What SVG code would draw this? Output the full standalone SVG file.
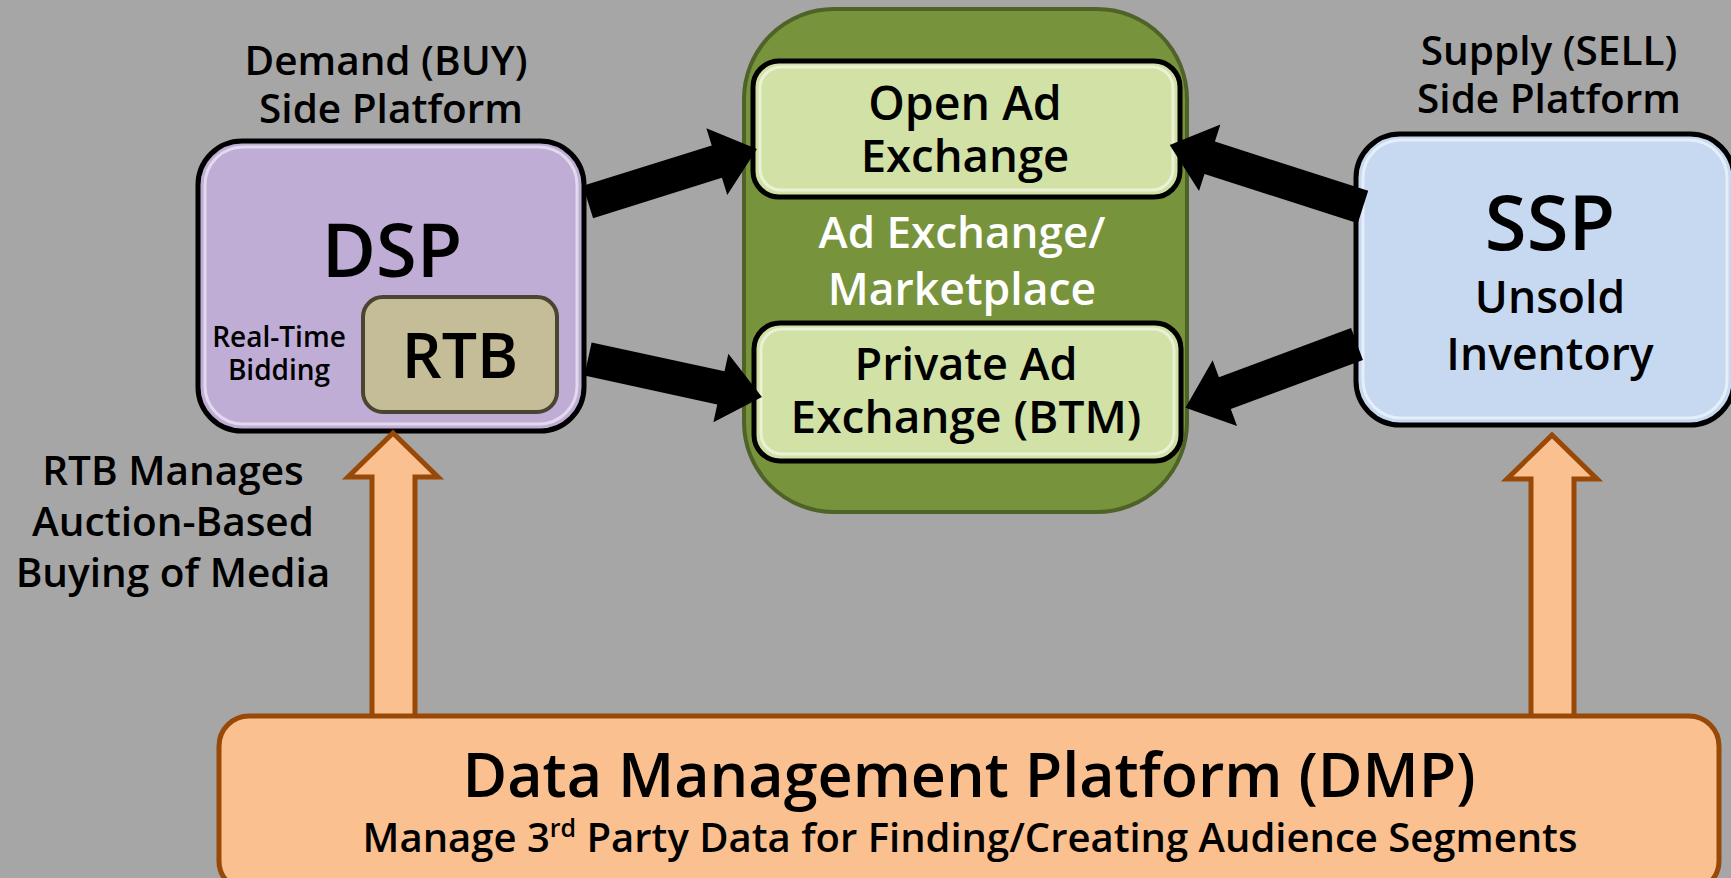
<svg xmlns="http://www.w3.org/2000/svg" width="1731" height="878" viewBox="0 0 1731 878">
<style>
text{font-family:"Open Sans","Noto Sans","Liberation Sans",sans-serif;font-weight:600;text-anchor:middle;fill:#000}
.lbl{font-size:40.5px}
.box{stroke:#000;stroke-width:5}
.hl{fill:none;stroke:#fff;stroke-opacity:0.55;stroke-width:3}
.arr{fill:#000}
.oarr{fill:#fac090;stroke:#984807;stroke-width:5}
</style>
<rect width="1731" height="878" fill="#a6a6a6"/>

<g id="exchange">
<rect x="744" y="9" width="443" height="503" rx="90" fill="#77933c" stroke="#4f6228" stroke-width="4"/>
<text x="962" y="248" style="font-size:44px;fill:#fff">Ad Exchange/</text>
<text x="962" y="305" style="font-size:44.5px;fill:#fff">Marketplace</text>
</g>

<g id="open-ad">
<rect class="box" x="753" y="61" width="427" height="136" rx="26" fill="#d2e1a6"/>
<rect class="hl" x="760" y="67" width="413" height="123" rx="21"/>
<text x="965" y="120" style="font-size:46.5px">Open Ad</text>
<text x="965" y="172" style="font-size:45.5px">Exchange</text>
</g>

<g id="private-ad">
<rect class="box" x="754" y="323" width="427" height="138" rx="26" fill="#d2e1a6"/>
<rect class="hl" x="761" y="329" width="413" height="125" rx="21"/>
<text x="966" y="380" style="font-size:45px">Private Ad</text>
<text x="966" y="433" style="font-size:46px">Exchange (BTM)</text>
</g>

<g id="dsp">
<text class="lbl" x="386" y="75">Demand (BUY)</text>
<text class="lbl" x="391" y="123">Side Platform</text>
<rect class="box" x="198" y="141" width="386" height="290" rx="44" fill="#bfadd6"/>
<rect class="hl" x="205" y="147" width="372" height="277" rx="38"/>
<text x="392" y="277" style="font-size:74px">DSP</text>
<text x="279" y="347" style="font-size:28px">Real-Time</text>
<text x="279" y="380" style="font-size:28px">Bidding</text>
</g>

<g id="rtb">
<rect x="363" y="297" width="194" height="115" rx="20" fill="#c4bd97" stroke="#4a4430" stroke-width="4"/>
<text x="460" y="378" style="font-size:62.5px">RTB</text>
</g>

<g id="ssp">
<text class="lbl" x="1549" y="65">Supply (SELL)</text>
<text class="lbl" x="1549" y="113">Side Platform</text>
<rect class="box" x="1356" y="134" width="378" height="291" rx="44" fill="#c6d9f1"/>
<rect class="hl" x="1363" y="140" width="364" height="278" rx="38"/>
<text x="1550" y="250" style="font-size:76px">SSP</text>
<text x="1550" y="313" style="font-size:44.5px">Unsold</text>
<text x="1550" y="370" style="font-size:44.5px">Inventory</text>
</g>

<g id="rtb-note">
<text class="lbl" x="173" y="485">RTB Manages</text>
<text class="lbl" x="173" y="536">Auction-Based</text>
<text class="lbl" x="173" y="587">Buying of Media</text>
</g>

<g id="connectors">
<polygon class="arr" points="0,-17 135,-17 135,-35 177,0 135,35 135,17 0,17" transform="translate(588,202) rotate(-17.4)"/>
<polygon class="arr" points="0,-17 136,-17 136,-35 178,0 136,35 136,17 0,17" transform="translate(588,359) rotate(12.3)"/>
<polygon class="arr" points="0,-17 161,-17 161,-35 203,0 161,35 161,17 0,17" transform="translate(1363,207) rotate(-162.2)"/>
<polygon class="arr" points="0,-17 141,-17 141,-35 183,0 141,35 141,17 0,17" transform="translate(1357,344) rotate(159.6)"/>
<polygon class="oarr" points="372,719 372,477 348,477 393,433 438,477 415,477 415,719"/>
<polygon class="oarr" points="1531,719 1531,479 1507,479 1552,435 1597,479 1574,479 1574,719"/>
</g>

<g id="dmp">
<rect x="219" y="716" width="1500" height="175" rx="30" fill="#fac090" stroke="#984807" stroke-width="5"/>
<text x="969" y="797" style="font-size:61px">Data Management Platform (DMP)</text>
<text x="970" y="852" style="font-size:40px">Manage 3<tspan dy="-15" style="font-size:25px">rd</tspan><tspan dy="15"> Party Data for Finding/Creating Audience Segments</tspan></text>
</g>
</svg>
